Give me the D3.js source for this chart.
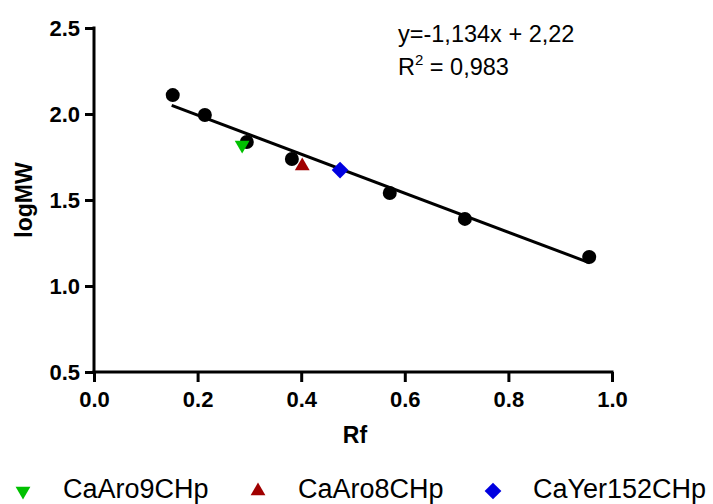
<!DOCTYPE html>
<html>
<head>
<meta charset="utf-8">
<script src="https://cdn.jsdelivr.net/npm/d3@7"></script>
<style>
  html, body { margin: 0; padding: 0; background: #fff; }
  svg { display: block; }
  text { font-family: Arial, "Liberation Sans", sans-serif; fill: #000; }
</style>
</head>
<body>
<svg id="chart" width="713" height="504"></svg>
<script>
// ---- data ----
const standardRf = [0.152, 0.214, 0.295, 0.382, 0.571, 0.716, 0.956];
const standardLogMW = [2.11, 1.994, 1.837, 1.738, 1.541, 1.39, 1.169];
const sampleNames = ["CaAro9CHp", "CaAro8CHp", "CaYer152CHp"];
const sampleRf = [0.286, 0.402, 0.475];
const sampleLogMW = [1.82, 1.698, 1.674];
const sampleColors = ["#00c000", "#a00000", "#0000e0"];
const fitSlope = -1.134;
const fitIntercept = 2.22;
const fitRange = [0.15, 0.957];
const xTicks = [0.0, 0.2, 0.4, 0.6, 0.8, 1.0];
const yTicks = [0.5, 1.0, 1.5, 2.0, 2.5];
const equationText = "y=-1,134x + 2,22";
const r2Text = " = 0,983";

const svg = d3.select("#chart");
svg.append("rect").attr("width", 713).attr("height", 504).attr("fill", "#fff");

const x = d3.scaleLinear().domain([0, 1]).range([94, 612]);
const y = d3.scaleLinear().domain([0.5, 2.5]).range([372, 28]);

// axes
const xAxis = svg.append("g").attr("transform", "translate(0,372)")
  .call(d3.axisBottom(x).tickValues(xTicks).tickFormat(d3.format(".1f")).tickSize(10).tickPadding(9).tickSizeOuter(0));
const yAxis = svg.append("g").attr("transform", "translate(94,0)")
  .call(d3.axisLeft(y).tickValues(yTicks).tickFormat(d3.format(".1f")).tickSize(9).tickPadding(5).tickSizeOuter(0));
[xAxis, yAxis].forEach(g => {
  g.select(".domain").attr("stroke", "#000").attr("stroke-width", 3);
  g.selectAll(".tick line").attr("stroke", "#000").attr("stroke-width", 3);
  g.selectAll(".tick text").attr("font-family", "Arial, 'Liberation Sans', sans-serif")
    .attr("font-size", 22).attr("font-weight", "bold").attr("fill", "#000");
});
xAxis.select(".domain").attr("d", `M${x(0)-1.5},0H${x(1)+1.5}`);
yAxis.select(".domain").attr("d", `M0,${y(2.5)-1.5}V${y(0.5)+1.5}`);

// axis titles
svg.append("text").attr("x", 355).attr("y", 443).attr("text-anchor", "middle")
  .attr("font-size", 23).attr("font-weight", "bold").text("Rf");
svg.append("text").attr("transform", "translate(32,200) rotate(-90)").attr("text-anchor", "middle")
  .attr("font-size", 23).attr("font-weight", "bold").text("logMW");

// standards
svg.append("g").selectAll("circle").data(standardRf).join("circle")
  .attr("cx", d => x(d)).attr("cy", (d, i) => y(standardLogMW[i])).attr("r", 7).attr("fill", "#000");

// fit line
svg.append("line")
  .attr("x1", x(fitRange[0])).attr("y1", y(fitSlope * fitRange[0] + fitIntercept))
  .attr("x2", x(fitRange[1])).attr("y2", y(fitSlope * fitRange[1] + fitIntercept))
  .attr("stroke", "#000").attr("stroke-width", 3);

// samples
const shapes = [d3.symbolTriangle, d3.symbolTriangle, d3.symbolSquare];
const rotations = [180, 0, 45];
const sizes = [95, 95, 140];
svg.append("g").selectAll("path").data(sampleRf).join("path")
  .attr("d", (d, i) => d3.symbol(shapes[i], sizes[i])())
  .attr("transform", (d, i) => `translate(${x(d)},${y(sampleLogMW[i])}) rotate(${rotations[i]})`)
  .attr("fill", (d, i) => sampleColors[i]);

// equation
svg.append("text").attr("x", 398).attr("y", 42).attr("font-size", 23.5).text(equationText);
const r2 = svg.append("text").attr("x", 398).attr("y", 75).attr("font-size", 23.5);
r2.append("tspan").text("R");
r2.append("tspan").attr("font-size", 15).attr("dy", -10).text("2");
r2.append("tspan").attr("dy", 10).text(r2Text);

// legend
const legendX = [23, 258, 493];
const lg = svg.append("g").selectAll("g").data(sampleNames).join("g")
  .attr("transform", (d, i) => `translate(${legendX[i]},491)`);
lg.append("path")
  .attr("d", (d, i) => d3.symbol(shapes[i], sizes[i])())
  .attr("transform", (d, i) => `rotate(${rotations[i]})`)
  .attr("fill", (d, i) => sampleColors[i]);
lg.append("text").attr("x", 40).attr("y", 7).attr("font-size", 27).text(d => d);
</script>
</body>
</html>
